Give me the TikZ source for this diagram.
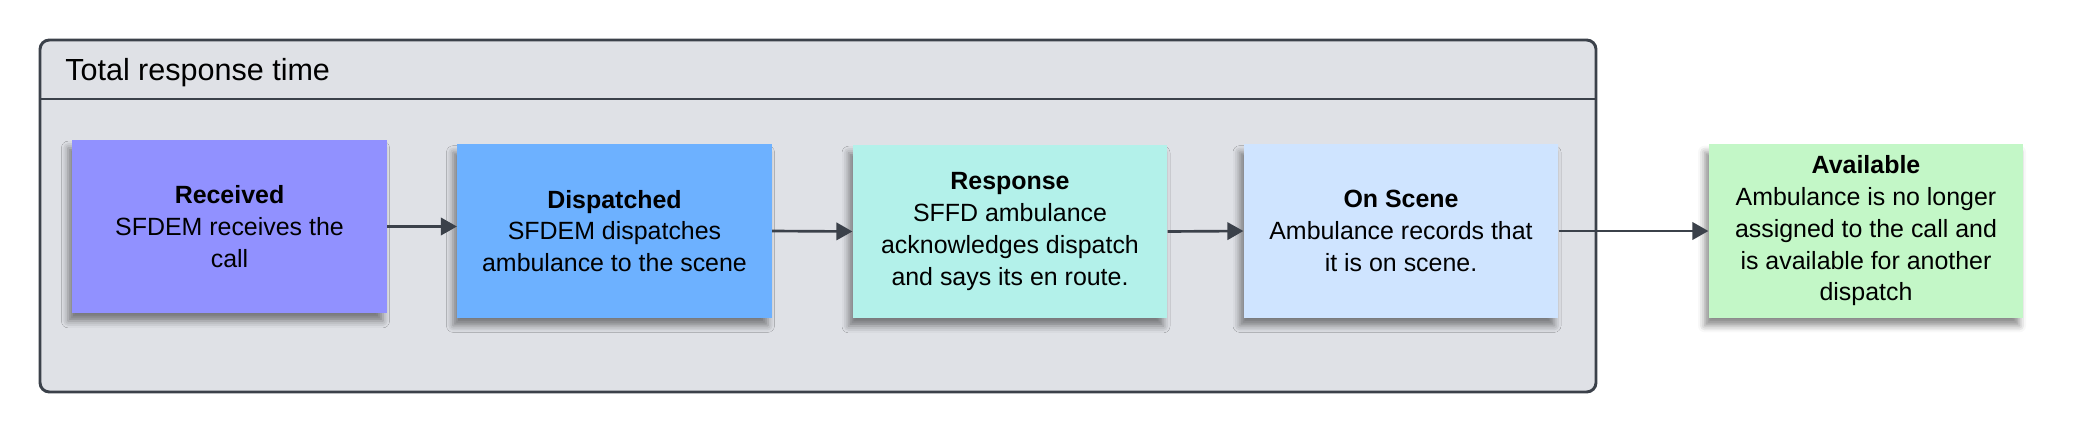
\documentclass[tikz,border=0pt]{standalone}
\usepackage{fontspec}
\setmainfont{Liberation Sans}
\usepackage{tikz}
\usetikzlibrary{arrows.meta, positioning, shadows, shadows.blur, calc}
\definecolor{frameDark}{HTML}{3B414A}
\definecolor{frameFill}{HTML}{DFE1E6}
\definecolor{receivedFill}{HTML}{9191FF}
\definecolor{dispatchedFill}{HTML}{6DB1FF}
\definecolor{responseFill}{HTML}{B3F1EA}
\definecolor{sceneFill}{HTML}{CFE4FF}
\definecolor{availableFill}{HTML}{C3F7C7}

\begin{document}
\begin{tikzpicture}[x=0.75pt, y=-0.75pt, >={Triangle[length=12pt, width=13pt]},
    note/.style={minimum width=236pt, minimum height=130pt, align=center, inner sep=0pt,
        font=\fontsize{18.7}{23.8}\selectfont,
        blur shadow={shadow xshift=-3pt, shadow yshift=-6pt, shadow blur radius=5pt, shadow opacity=45}},
    link/.style={->, line width=2pt, frameDark}]
    \useasboundingbox (0,0) rectangle (2096,433);
    \draw[frameDark, line width=2.2pt, fill=frameFill, rounded corners=7pt] (40,40) rectangle (1596,392);
    \draw[frameDark, line width=2.2pt] (40,99) -- (1596,99);
    \node[anchor=base west, inner sep=0pt, font=\fontsize{22.9}{27}\selectfont] (title) at (65,80) {Total response time};

    \node[note, fill=receivedFill] (received) at (229.5,226.5) {\textbf{Received}\\SFDEM receives the\\call};
    \node[note, fill=dispatchedFill] (dispatched) at (614.5,231) {\textbf{Dispatched}\\SFDEM dispatches\\ambulance to the scene};
    \node[note, fill=responseFill] (response) at (1010,231.5) {\textbf{Response}\\SFFD ambulance\\acknowledges dispatch\\and says its en route.};
    \node[note, fill=sceneFill] (scene) at (1401,231) {\textbf{On Scene}\\Ambulance records that\\it is on scene.};
    \node[note, fill=availableFill] (available) at (1866,231) {\textbf{Available}\\Ambulance is no longer\\assigned to the call and\\is available for another\\dispatch};

    \draw[link] (received.east) -- (received.east -| dispatched.west);
    \draw[link] (dispatched.east) -- (response.west);
    \draw[link] (response.east) -- (scene.west);
    \draw[link] (scene.east) -- (available.west);
\end{tikzpicture}
\end{document}
